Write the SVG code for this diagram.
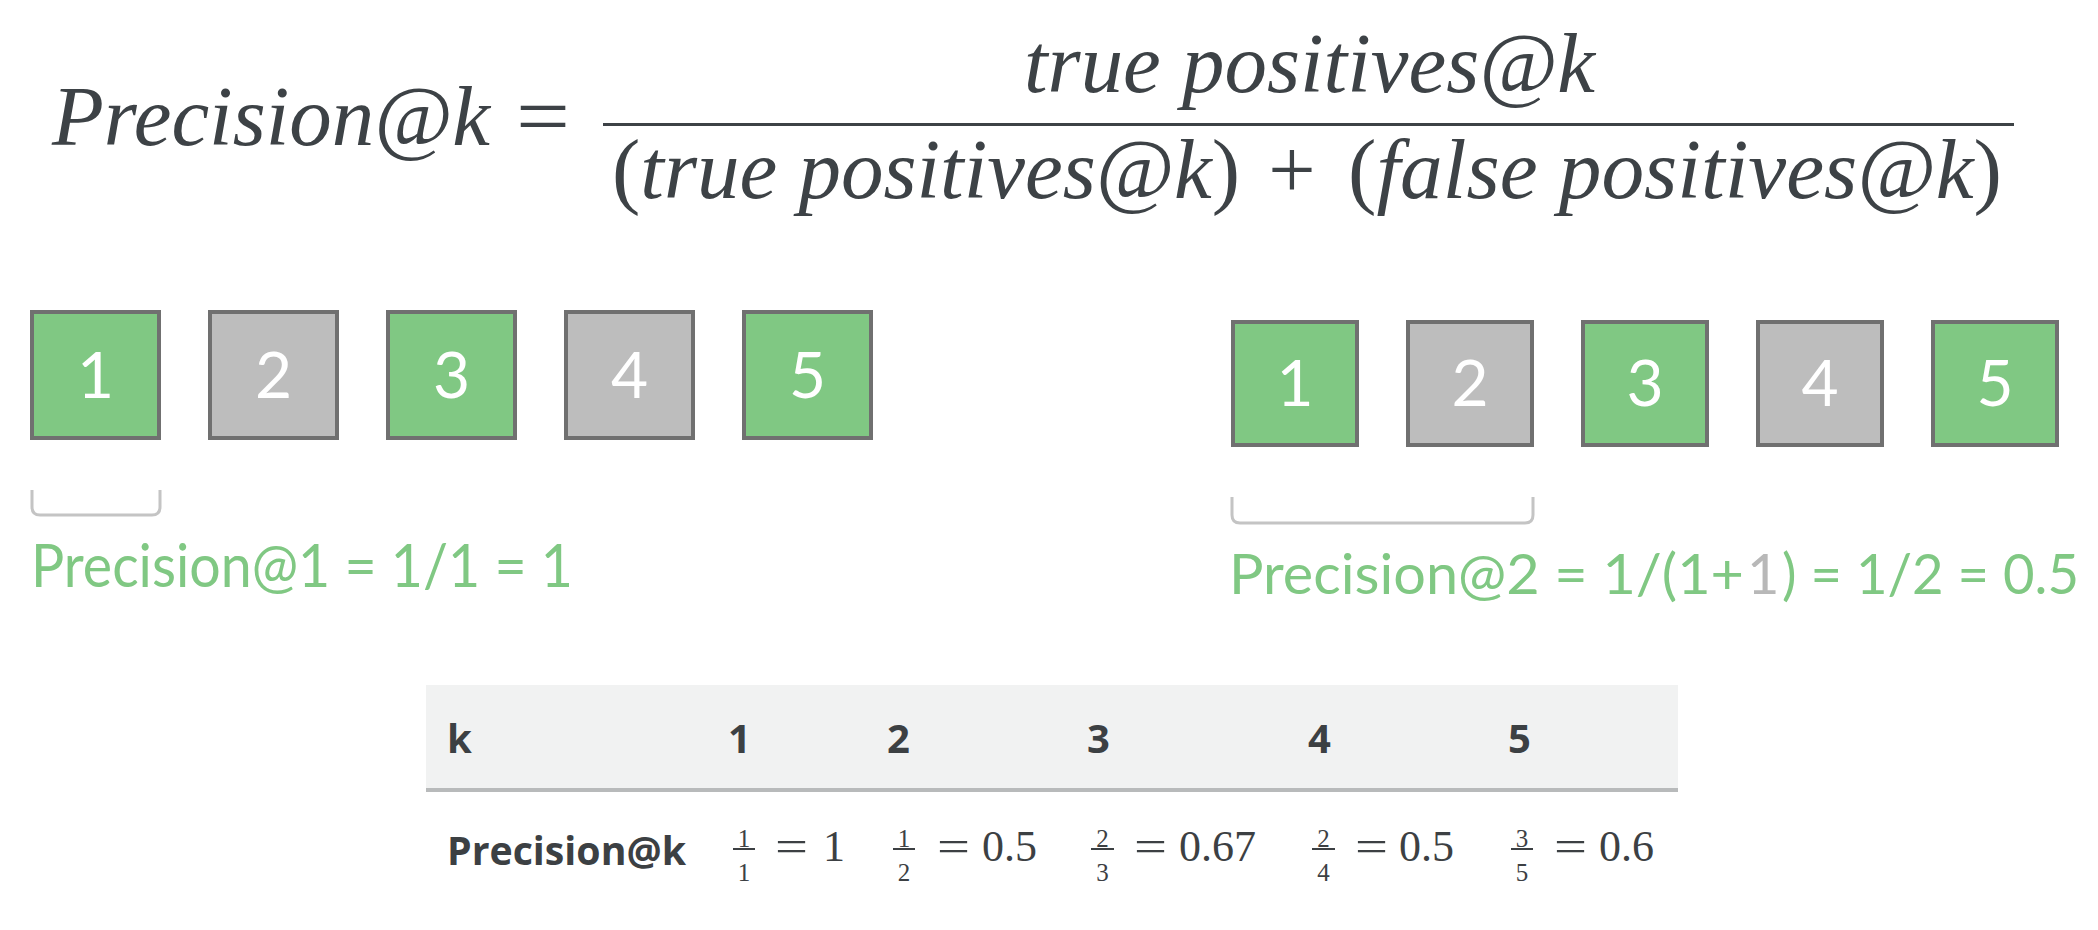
<svg xmlns="http://www.w3.org/2000/svg" width="2098" height="930" viewBox="0 0 2098 930">
<style>
.math{font-family:"Liberation Serif","Times New Roman",serif;font-style:italic;font-size:84px;fill:#3d4246}
.up{font-style:normal}
.g{fill:#80c883;stroke:#707070;stroke-width:4}
.s{fill:#bdbdbd;stroke:#707070;stroke-width:4}
.dig{font-family:Lato,"Open Sans",sans-serif;font-size:64px;fill:#ffffff;text-anchor:middle}
.lab{font-family:Lato,"Open Sans",sans-serif;font-size:60px;fill:#80c883}
.labr{font-family:Lato,"Open Sans",sans-serif;font-size:56px;fill:#80c883}
.br{fill:none;stroke:#c4c4c4;stroke-width:3}
.th{font-family:"Open Sans","Liberation Sans",sans-serif;font-weight:bold;font-size:40px;fill:#3c4043}
.tm{font-family:"Liberation Serif","Times New Roman",serif;font-size:44px;fill:#3c4043}
.tf{font-family:"Liberation Serif","Times New Roman",serif;font-size:25px;fill:#3c4043;text-anchor:middle}
.fb{stroke:#3c4043;stroke-width:2}
</style>
<rect width="2098" height="930" fill="#ffffff"/>
<g id="formula">
<text class="math" x="52" y="145" textLength="438" lengthAdjust="spacingAndGlyphs">Precision@k</text>
<text class="math up" x="516" y="145" textLength="54" lengthAdjust="spacingAndGlyphs">=</text>
<line x1="603" y1="124.5" x2="2014" y2="124.5" stroke="#3d4246" stroke-width="3"/>
<text class="math" x="1024" y="92" textLength="571" lengthAdjust="spacingAndGlyphs">true positives@k</text>
<text class="math" x="612" y="198" textLength="628" lengthAdjust="spacingAndGlyphs"><tspan class="up">(</tspan>true positives@k<tspan class="up">)</tspan></text>
<text class="math up" x="1292" y="198" text-anchor="middle">+</text>
<text class="math" x="1348" y="198" textLength="654" lengthAdjust="spacingAndGlyphs"><tspan class="up">(</tspan>false positives@k<tspan class="up">)</tspan></text>
</g>
<g id="left-box-1"><rect class="g" x="32" y="312" width="127" height="126"/><text class="dig" x="95.5" y="398">1</text></g>
<g id="left-box-2"><rect class="s" x="210" y="312" width="127" height="126"/><text class="dig" x="273.5" y="398">2</text></g>
<g id="left-box-3"><rect class="g" x="388" y="312" width="127" height="126"/><text class="dig" x="451.5" y="398">3</text></g>
<g id="left-box-4"><rect class="s" x="566" y="312" width="127" height="126"/><text class="dig" x="629.5" y="398">4</text></g>
<g id="left-box-5"><rect class="g" x="744" y="312" width="127" height="126"/><text class="dig" x="807.5" y="398">5</text></g>
<g id="right-box-1"><rect class="g" x="1233" y="322" width="124" height="123"/><text class="dig" x="1295" y="406">1</text></g>
<g id="right-box-2"><rect class="s" x="1408" y="322" width="124" height="123"/><text class="dig" x="1470" y="406">2</text></g>
<g id="right-box-3"><rect class="g" x="1583" y="322" width="124" height="123"/><text class="dig" x="1645" y="406">3</text></g>
<g id="right-box-4"><rect class="s" x="1758" y="322" width="124" height="123"/><text class="dig" x="1820" y="406">4</text></g>
<g id="right-box-5"><rect class="g" x="1933" y="322" width="124" height="123"/><text class="dig" x="1995" y="406">5</text></g>
<g id="connectors">
<path class="br" d="M32,490 v17 q0,8 8,8 h112 q8,0 8,-8 v-17"/>
<path class="br" d="M1232,497 v18 q0,8 8,8 h285 q8,0 8,-8 v-18"/>
</g>
<g id="label-left"><text class="lab" x="31" y="587" textLength="542" lengthAdjust="spacingAndGlyphs">Precision@1 = 1/1 = 1</text></g>
<g id="label-right">
<text class="labr" x="1229" y="594" textLength="515" lengthAdjust="spacingAndGlyphs">Precision@2 = 1/(1+</text>
<text class="labr" x="1747" y="594" style="fill:#b8b8b8">1</text>
<text class="labr" x="1782" y="594" textLength="297" lengthAdjust="spacingAndGlyphs">) = 1/2 = 0.5</text>
</g>
<g id="table">
<rect x="426" y="685" width="1252" height="103" fill="#f1f2f2"/>
<line x1="426" y1="790" x2="1678" y2="790" stroke="#b8babb" stroke-width="4"/>
<text class="th" x="447" y="753">k</text>
<text class="th" x="728" y="753">1</text>
<text class="th" x="887" y="753">2</text>
<text class="th" x="1087" y="753">3</text>
<text class="th" x="1308" y="753">4</text>
<text class="th" x="1508" y="753">5</text>
<text class="th" x="447" y="865" textLength="239" lengthAdjust="spacingAndGlyphs">Precision@k</text>
<g id="cell-1">
<text class="tf" x="744" y="847">1</text><line class="fb" x1="733" y1="849" x2="755" y2="849"/><text class="tf" x="744" y="881">1</text>
<text class="tm" x="775" y="861" textLength="33" lengthAdjust="spacingAndGlyphs">=</text><text class="tm" x="823" y="861">1</text>
</g>
<g id="cell-2">
<text class="tf" x="904" y="847">1</text><line class="fb" x1="893" y1="849" x2="915" y2="849"/><text class="tf" x="904" y="881">2</text>
<text class="tm" x="937" y="861" textLength="33" lengthAdjust="spacingAndGlyphs">=</text><text class="tm" x="982" y="861">0.5</text>
</g>
<g id="cell-3">
<text class="tf" x="1102.5" y="847">2</text><line class="fb" x1="1091" y1="849" x2="1114" y2="849"/><text class="tf" x="1102.5" y="881">3</text>
<text class="tm" x="1134" y="861" textLength="33" lengthAdjust="spacingAndGlyphs">=</text><text class="tm" x="1179" y="861">0.67</text>
</g>
<g id="cell-4">
<text class="tf" x="1323.5" y="847">2</text><line class="fb" x1="1312" y1="849" x2="1335" y2="849"/><text class="tf" x="1323.5" y="881">4</text>
<text class="tm" x="1355" y="861" textLength="33" lengthAdjust="spacingAndGlyphs">=</text><text class="tm" x="1399" y="861">0.5</text>
</g>
<g id="cell-5">
<text class="tf" x="1522" y="847">3</text><line class="fb" x1="1511" y1="849" x2="1533" y2="849"/><text class="tf" x="1522" y="881">5</text>
<text class="tm" x="1554" y="861" textLength="33" lengthAdjust="spacingAndGlyphs">=</text><text class="tm" x="1599" y="861">0.6</text>
</g>
</g>
</svg>
